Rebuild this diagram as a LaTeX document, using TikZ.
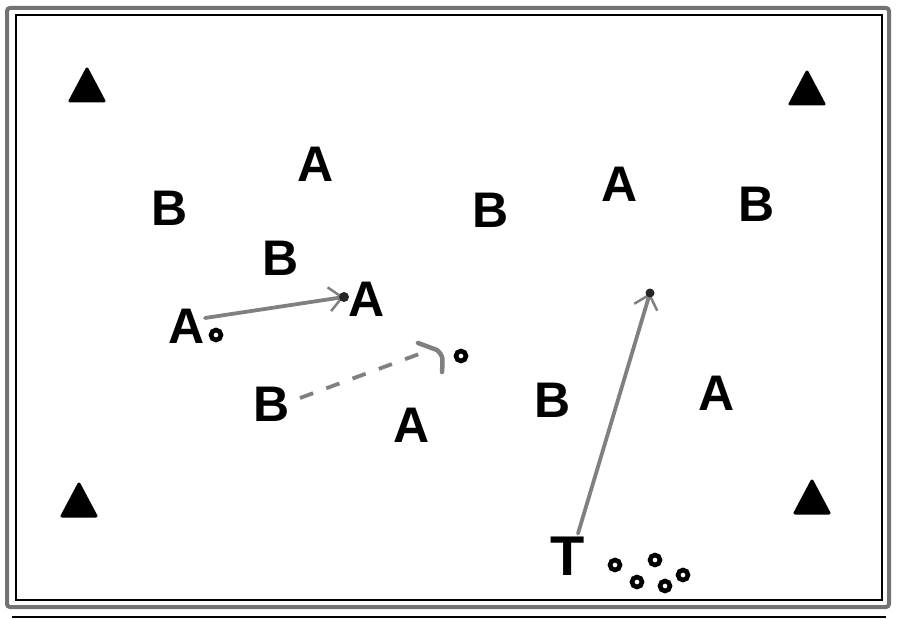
\documentclass[tikz,border=0pt]{standalone}
\usepackage{fontspec}
\setmainfont{Liberation Sans}
\usetikzlibrary{arrows.meta,calc}
\begin{document}
\begin{tikzpicture}[x=1pt,y=-1pt,
  player/.style={inner sep=1pt,font=\fontsize{50}{50}\selectfont\bfseries},
  cone/.style={fill=black,draw=black,line width=3pt,line join=round},
  ring/.style={circle,draw=black,line width=4.6pt,fill=white,minimum size=10pt,inner sep=0pt},
  passline/.style={draw=black!50,line width=3.8pt,line cap=round},
  dashline/.style={draw=black!50,line width=3.8pt,dash pattern=on 14pt off 14pt},
  tip/.style={-{Straight Barb[length=13pt,width=24pt,line width=2.5pt]}}
]
\useasboundingbox (0,0) rectangle (900,620);
\fill[white] (0,0) rectangle (900,620);
% frame
\draw[black!55,line width=4pt,rounded corners=3pt] (7,8) rectangle (889,607);
\draw[black,line width=1.8pt] (16,15) rectangle (882,600);
\draw[black,line width=1.8pt] (12,617) -- (886,617);
% cones
\draw[cone] (87,69) -- (104,101) -- (70,101) -- cycle;
\draw[cone] (807,72) -- (824,104) -- (790,104) -- cycle;
\draw[cone] (79,484) -- (96,516) -- (62,516) -- cycle;
\draw[cone] (812,481) -- (829,513) -- (795,513) -- cycle;
% players
\node[player] (A1) at (316,164) {A};
\node[player] (B1) at (170,208) {B};
\node[player] (B2) at (491,210) {B};
\node[player] (A4) at (620,184) {A};
\node[player] (B3) at (757,204) {B};
\node[player] (B5) at (281,258) {B};
\node[player] (A2) at (367,299) {A};
\node[player] (A3) at (187,326) {A};
\node[player] (B4) at (272,404) {B};
\node[player] (A5) at (412,425) {A};
\node[player] (B6) at (553,400) {B};
\node[player] (A6) at (717,393) {A};
\node[player,font=\fontsize{56}{56}\selectfont\bfseries] (T) at (568,556) {T};
% balls
\node[ring] (b1) at (216,335) {};
\node[ring] (b2) at (461,356) {};
\node[ring] (b3) at (615,565) {};
\node[ring] (b4) at (655,560) {};
\node[ring] (b5) at (683,575) {};
\node[ring] (b6) at (637,582) {};
\node[ring] (b7) at (665,586) {};
% pass A3 -> A2
\coordinate (p1s) at (205,318);
\coordinate (p1e) at (344,297);
\draw[passline,tip] (p1s) -- (p1e);
\fill[black!85] (p1e) circle (5pt);
% dashed run B4 -> ball
\coordinate (p2s) at (300,398);
\coordinate (p2e) at (430,350);
\draw[dashline] (p2s) -- (p2e);
\draw[passline,line width=4.5pt,line join=round] (418,343) -- (437,350) .. controls (443,356) .. (442,372);
% T -> target
\coordinate (p3e) at (650,293);
\draw[passline,tip] (T.north) ++(10,-2) -- (p3e);
\fill[black!85] (p3e) circle (4.5pt);
\end{tikzpicture}
\end{document}
